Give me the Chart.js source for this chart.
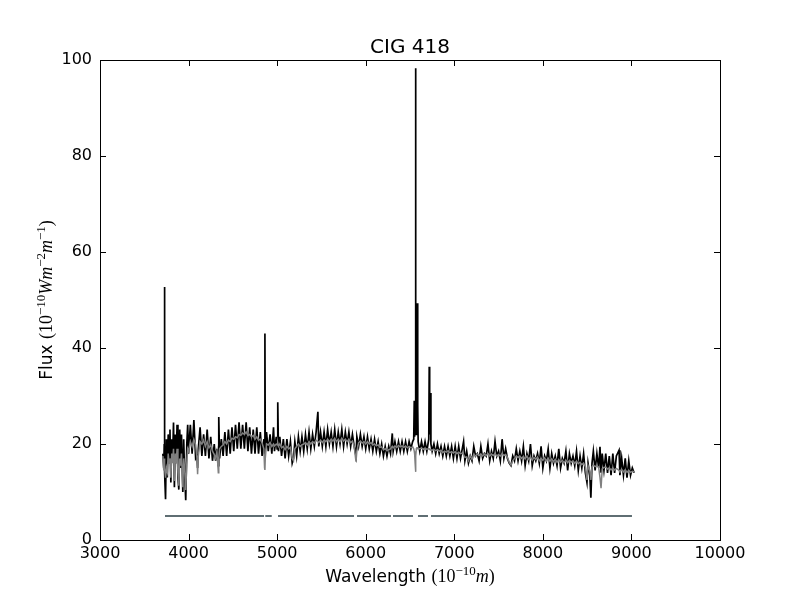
<!DOCTYPE html>
<html>
<head>
<meta charset="utf-8">
<title>CIG 418</title>
<script src="https://cdn.jsdelivr.net/npm/chart.js@4.4.0/dist/chart.umd.min.js"></script>
<style>
  html, body { margin: 0; padding: 0; background: #fff; }
  #wrap { width: 800px; height: 600px; }
</style>
</head>
<body>
<div id="wrap"><canvas id="spectrum" width="800" height="600"></canvas></div>
<script>
// =============================
// Data
// =============================
const wave = [
  3710, 3720, 3725, 3728, 3731, 3740, 3750, 3760, 3770, 3780,
  3790, 3800, 3810, 3820, 3830, 3840, 3850, 3860, 3870, 3880,
  3890, 3900, 3910, 3920, 3935, 3945, 3955, 3968, 3980, 3990,
  4000, 4020, 4040, 4060, 4080, 4095, 4102, 4110, 4130, 4150,
  4170, 4190, 4210, 4230, 4250, 4270, 4290, 4305, 4320, 4336,
  4341, 4350, 4370, 4390, 4410, 4430, 4450, 4470, 4490, 4510,
  4530, 4550, 4570, 4590, 4610, 4630, 4650, 4670, 4690, 4710,
  4730, 4750, 4770, 4790, 4810, 4830, 4850, 4858, 4862, 4866,
  4880, 4900, 4920, 4940, 4959, 4970, 4990, 5000, 5007, 5015,
  5030, 5050, 5070, 5090, 5110, 5130, 5150, 5170, 5185, 5200,
  5220, 5240, 5260, 5280, 5300, 5320, 5340, 5360, 5380, 5400,
  5420, 5440, 5460, 5470, 5490, 5510, 5530, 5550, 5570, 5590,
  5610, 5630, 5650, 5670, 5690, 5710, 5730, 5750, 5770, 5790,
  5810, 5830, 5850, 5870, 5890, 5900, 5920, 5940, 5960, 5980,
  6000, 6020, 6040, 6060, 6080, 6100, 6120, 6140, 6160, 6180,
  6200, 6220, 6240, 6260, 6280, 6300, 6310, 6330, 6350, 6370,
  6390, 6410, 6430, 6450, 6470, 6490, 6510, 6530, 6542, 6548,
  6552, 6558, 6562, 6564, 6567, 6572, 6578, 6583, 6587, 6592,
  6610, 6630, 6650, 6670, 6690, 6712, 6717, 6722, 6731, 6736,
  6750, 6770, 6790, 6810, 6830, 6850, 6870, 6890, 6910, 6930,
  6950, 6970, 6990, 7010, 7030, 7050, 7070, 7090, 7105, 7120,
  7140, 7160, 7180, 7200, 7220, 7240, 7260, 7280, 7300, 7320,
  7340, 7360, 7380, 7400, 7420, 7440, 7460, 7480, 7500, 7520,
  7540, 7560, 7580, 7600, 7620, 7640, 7660, 7680, 7700, 7720,
  7740, 7760, 7780, 7800, 7820, 7840, 7860, 7880, 7900, 7920,
  7940, 7960, 7980, 8000, 8020, 8040, 8060, 8080, 8100, 8120,
  8140, 8160, 8180, 8200, 8220, 8240, 8260, 8280, 8300, 8320,
  8340, 8360, 8380, 8400, 8420, 8440, 8460, 8480, 8498, 8510,
  8530, 8542, 8555, 8570, 8590, 8610, 8630, 8645, 8657, 8670,
  8690, 8710, 8730, 8750, 8770, 8790, 8810, 8830, 8860, 8870,
  8890, 8910, 8930, 8950, 8970, 8990, 9010, 9030
];

// observed spectrum (black)
const fluxObserved = [
  18, 15, 20, 52.7, 14, 8.5, 21, 13, 22, 16,
  23, 12, 21, 17, 24.5, 11, 22, 16, 24, 13,
  10.5, 23, 15, 22, 10, 21, 14, 8.3, 20, 24,
  18, 24, 18, 25, 17, 17.5, 15, 19, 23.5, 17.5,
  22, 17.5, 23, 17, 21.5, 16.5, 20, 16.5, 19, 15.5,
  25.6, 17, 21, 17.5, 22.5, 17.5, 23, 18, 23.5, 18.5,
  24, 19, 24.5, 19, 24, 19, 24.5, 18.5, 23.5, 18,
  23, 18, 23.5, 18, 22.5, 17.5, 21, 18, 43, 19,
  22.5, 18.5, 22, 18, 23.5, 18.5, 21.5, 19, 28.7, 18.5,
  21.5, 17.5, 21, 17, 21, 17.5, 20.5, 16, 17, 20.5,
  17.5, 21.5, 18.5, 21.5, 18.5, 22, 19, 22.5, 19, 22,
  19.5, 22.5, 26.7, 19.5, 22.5, 19.5, 22.5, 19.5, 23, 20,
  22.5, 19.5, 23, 19.5, 22.5, 20, 23, 19.5, 22.5, 20,
  22.5, 19.5, 22, 19.5, 17.5, 21.5, 19.5, 22, 19.5, 21.5,
  19, 21.5, 19, 21, 18.5, 21, 18.5, 20.5, 18, 20,
  17.5, 19.5, 17.5, 19.5, 18, 22.2, 18.5, 20.5, 18.5, 20.5,
  18.5, 20.5, 18.5, 20.5, 18.5, 20.5, 19, 20.5, 21, 29,
  21.5, 24, 40, 98.3, 46, 22, 24, 49.3, 28, 20.5,
  18.5, 20.5, 18.5, 20.5, 18.5, 21, 36.1, 22, 30.6, 20,
  18.5, 20, 18, 20, 18, 19.5, 17.5, 19.5, 17.5, 19.5,
  17.5, 19.5, 17, 19.5, 17, 19.5, 17, 19, 20.5, 16.5,
  18.5, 16, 17.5, 16.5, 19.5, 17.5, 18, 16.5, 19.5, 17,
  18, 17.5, 20, 16.5, 18.5, 17, 20.5, 17.5, 18.5, 16.5,
  21, 17, 19, 17, 16, 15.5, 17.5, 16.5, 19, 16.5,
  18.5, 16.5, 19.5, 15.5, 18, 16.5, 20, 15.5, 17.5, 16.5,
  18, 16, 19.5, 15, 17.5, 16.5, 19, 15, 18, 16,
  17.5, 15.5, 19, 15, 17, 16, 18.5, 14.5, 18, 16,
  17.5, 15.5, 18.5, 14.5, 17.5, 15, 18, 14, 12, 16,
  13.5, 8.8, 16, 18.5, 14.5, 18, 15, 19.4, 14, 18,
  14.5, 18, 14, 17.5, 13.5, 18, 14, 17.5, 18.7, 13.5,
  17, 13.5, 17, 13, 16.5, 13.5, 15, 14
];

// fitted model spectrum (grey)
const fluxModel = [
  17.5, 14.5, 16, 17, 15, 13, 15, 14.2, 18, 16,
  17, 13, 18, 16, 19, 12.3, 18, 16, 19, 14,
  11.3, 17, 15.5, 18, 11, 17, 15, 10.4, 16, 19,
  18.5, 20.5, 19.5, 21, 19.8, 17, 13.7, 17.5, 20.5, 20,
  20.8, 19.5, 20.5, 19.2, 19.8, 18.5, 17.8, 17, 18.5, 14,
  17, 19, 19.5, 19.8, 20.5, 20, 20.8, 20.5, 21.2, 21,
  21.5, 21.3, 22, 21.8, 22.3, 22, 22.5, 21.8, 22, 21.5,
  21.8, 21, 21.5, 20.8, 21, 20.2, 19, 15, 14.6, 17,
  20, 19.8, 20.3, 19.5, 20, 19.6, 20, 19.8, 20.2, 19.5,
  20, 19.2, 19.5, 18.8, 19.5, 19, 19.3, 17, 16.5, 19,
  19.5, 20, 19.5, 19.8, 20, 20.3, 19.8, 20.5, 20, 20.5,
  20.2, 20.8, 20.5, 20.3, 20.8, 20.3, 20.8, 20.5, 21, 20.5,
  21, 20.6, 21.2, 20.5, 21, 20.5, 21.2, 20.6, 21, 20.5,
  21, 20.3, 20.6, 19.5, 16.3, 18.5, 20.3, 20.6, 20.2, 20.5,
  20, 20.5, 20, 20.3, 19.8, 20, 19.6, 19.8, 19.3, 19.4,
  18.8, 19, 18.6, 18.8, 19, 19.5, 19.2, 19.6, 19.3, 19.7,
  19.4, 19.6, 19.3, 19.6, 19.2, 19.5, 19.2, 19.4, 19, 18.5,
  18, 16, 14.2, 15, 17.5, 19, 19.2, 19.2, 19.2, 19,
  19, 19.2, 18.9, 19.1, 18.9, 19, 19, 18.9, 18.9, 18.8,
  18.7, 18.9, 18.6, 18.8, 18.5, 18.7, 18.2, 18.5, 18.3, 18.6,
  18.2, 18.4, 18.1, 18.4, 18, 18.3, 18, 18.1, 17.8, 17.2,
  17.3, 16.5, 17.5, 16.8, 17.8, 17.5, 17.9, 17.6, 17.9, 17.5,
  17.9, 17.6, 18, 17.5, 17.9, 17.6, 18, 17.5, 17.8, 17.5,
  18, 17.6, 17.8, 17.2, 16.2, 15.6, 16.5, 17, 17.5, 17.2,
  17.5, 17, 17.4, 16.9, 17.5, 16.8, 17.3, 16.6, 17.2, 16.8,
  17.3, 16.5, 17, 16.6, 17.1, 16.5, 17, 16.4, 16.9, 16.3,
  16.8, 16.2, 16.7, 16.2, 16.6, 16.1, 16.6, 16.1, 16.6, 16.2,
  16.5, 16, 16.4, 15.9, 16.2, 15.7, 16, 15.3, 12.5, 15.5,
  14.5, 12.5, 15.2, 15.6, 15.3, 15.5, 15.2, 13, 10.8, 14.8,
  15.1, 15.2, 14.8, 15, 14.6, 15, 14.6, 14.9, 14.5, 14.3,
  14.7, 14.2, 14.6, 14.1, 14.5, 14.1, 14.3, 14.2
];

// masked-pixel flag line: segments drawn at a constant level
const maskStart = [3734, 4866, 5010, 5902, 6308, 6590, 6737];
const maskEnd   = [4852, 4939, 5868, 6285, 6534, 6703, 9006];
const maskLevel = 5;

// axis ticks
const xTicks = [3000, 4000, 5000, 6000, 7000, 8000, 9000, 10000];
const yTicks = [0, 20, 40, 60, 80, 100];

// =============================
// Build datasets
// =============================
const observedPts = wave.map((w, i) => ({ x: w, y: fluxObserved[i] }));
const modelPts = wave.map((w, i) => ({ x: w, y: fluxModel[i] }));

const maskPts = [];
maskStart.forEach((s, i) => {
  maskPts.push({ x: s, y: maskLevel });
  maskPts.push({ x: maskEnd[i], y: maskLevel });
  maskPts.push({ x: maskEnd[i] + 1, y: null }); // break between segments
});

// draws text made of pieces in different fonts, centred on cx, baseline cy
function drawRich(ctx, parts, cx, cy) {
  let total = 0;
  parts.forEach(p => {
    ctx.font = p.font;
    p.w = ctx.measureText(p.text).width;
    total += p.w;
  });
  let x = cx - total / 2;
  ctx.textAlign = "left";
  ctx.textBaseline = "alphabetic";
  parts.forEach(p => {
    ctx.font = p.font;
    ctx.fillText(p.text, x, cy + (p.dy || 0));
    x += p.w;
  });
}

const SANS = "17px 'DejaVu Sans'";
const SERIF = "18px 'Liberation Serif'";
const ITAL = "italic 18px 'Liberation Serif'";
const SUP = "13px 'Liberation Serif'";

// frame, inward tick marks, title and axis labels (matplotlib look)
const framePlugin = {
  id: "frame",
  afterDraw(chart) {
    const { ctx, chartArea: a, scales } = chart;
    ctx.save();
    ctx.strokeStyle = "#000";
    ctx.lineWidth = 1;

    ctx.beginPath();
    xTicks.forEach(v => {
      const px = Math.round(scales.x.getPixelForValue(v)) + 0.5;
      ctx.moveTo(px, a.bottom); ctx.lineTo(px, a.bottom - 6);
      ctx.moveTo(px, a.top); ctx.lineTo(px, a.top + 6);
    });
    yTicks.forEach(v => {
      const py = Math.round(scales.y.getPixelForValue(v)) + 0.5;
      ctx.moveTo(a.left, py); ctx.lineTo(a.left + 6, py);
      ctx.moveTo(a.right, py); ctx.lineTo(a.right - 6, py);
    });
    ctx.stroke();

    ctx.strokeRect(a.left + 0.5, a.top + 0.5, a.right - a.left, a.bottom - a.top);

    ctx.fillStyle = "#000";
    ctx.font = "20px 'DejaVu Sans'";
    ctx.textAlign = "center";
    ctx.textBaseline = "alphabetic";
    ctx.fillText("CIG 418", (a.left + a.right) / 2, 53);

    drawRich(ctx, [
      { text: "Wavelength ", font: SANS },
      { text: "(10", font: SERIF },
      { text: "\u221210", font: SUP, dy: -7 },
      { text: "m", font: ITAL },
      { text: ")", font: SERIF }
    ], (a.left + a.right) / 2, 582);

    ctx.translate(52, (a.top + a.bottom) / 2);
    ctx.rotate(-Math.PI / 2);
    drawRich(ctx, [
      { text: "Flux ", font: SANS },
      { text: "(10", font: SERIF },
      { text: "\u221210", font: SUP, dy: -7 },
      { text: "Wm", font: ITAL },
      { text: "\u22122", font: SUP, dy: -7 },
      { text: "m", font: ITAL },
      { text: "\u22121", font: SUP, dy: -7 },
      { text: ")", font: SERIF }
    ], 0, 0);
    ctx.restore();
  }
};

new Chart(document.getElementById("spectrum"), {
  type: "line",
  data: {
    datasets: [
      {
        label: "Model",
        data: modelPts,
        borderColor: "#808080",
        borderWidth: 1.5,
        order: 0
      },
      {
        label: "Observed",
        data: observedPts,
        borderColor: "#000000",
        borderWidth: 1.7,
        order: 1
      },
      {
        label: "Mask",
        data: maskPts,
        borderColor: "#5f6e73",
        borderWidth: 2,
        borderCapStyle: "butt",
        spanGaps: false,
        order: 2
      }
    ]
  },
  options: {
    responsive: false,
    devicePixelRatio: 1,
    animation: false,
    layout: { padding: { left: 0, right: 80, top: 60, bottom: 0 } },
    elements: { point: { radius: 0 }, line: { tension: 0 } },
    plugins: {
      legend: { display: false },
      tooltip: { enabled: false },
      title: { display: false }
    },
    scales: {
      x: {
        type: "linear",
        min: 3000,
        max: 10000,
        afterFit: s => { s.height = 60; },
        afterBuildTicks: s => { s.ticks = xTicks.map(v => ({ value: v })); },
        ticks: {
          color: "#000",
          font: { family: "DejaVu Sans", size: 16 },
          padding: 4,
          maxRotation: 0,
          autoSkip: false,
          callback: v => String(v)
        },
        grid: { display: false, drawTicks: false },
        border: { display: false }
      },
      y: {
        type: "linear",
        min: 0,
        max: 100,
        afterFit: s => { s.width = 100; },
        afterBuildTicks: s => { s.ticks = yTicks.map(v => ({ value: v })); },
        ticks: {
          color: "#000",
          font: { family: "DejaVu Sans", size: 16 },
          padding: 8,
          callback: v => String(v)
        },
        grid: { display: false, drawTicks: false },
        border: { display: false }
      }
    }
  },
  plugins: [framePlugin]
});
</script>
</body>
</html>
